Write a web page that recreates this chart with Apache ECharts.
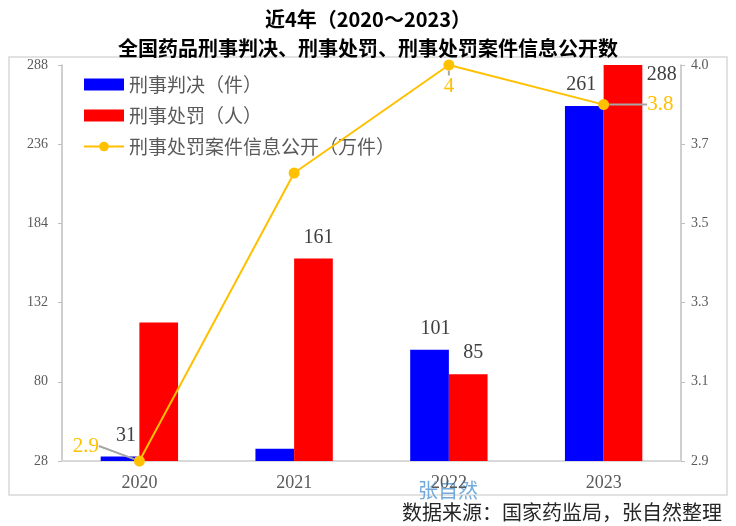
<!DOCTYPE html>
<html>
<head>
<meta charset="utf-8">
<script src="https://cdn.jsdelivr.net/npm/echarts@6/dist/echarts.min.js"></script>
<style>html,body{margin:0;padding:0;background:#fff;}#c{width:736px;height:526px;}</style>
</head>
<body>
<div id="c"></div>
<script>
const categories = ['2020', '2021', '2022', '2023'];
const judgments = [31, 36, 101, 261];      // 刑事判决（件）
const penalties = [119, 161, 85, 288];     // 刑事处罚（人）
const disclosures = [2.9, 3.70, 4.0, 3.89]; // 刑事处罚案件信息公开（万件）
const leftTicks = { min: 28, max: 288, interval: 52 };
const rightTicks = { min: 2.9, max: 4.0, interval: 0.22 };
const seriesNames = ['刑事判决（件）', '刑事处罚（人）', '刑事处罚案件信息公开（万件）'];

const numFont = 'Liberation Serif';
const cjkFont = 'Noto Sans CJK SC';

function trunc1(v) {
  return Math.floor(v * 10 + 1e-6) / 10;
}

// per-point label tweaks (which labels show and small nudges)
const blueLabel = [
  { show: true, offset: [6, 0] },
  { show: false },
  { show: true, offset: [6, 0] },
  { show: true, offset: [-3, 0] }
];
const redLabel = [
  { show: false },
  { show: true, offset: [5, 0] },
  { show: true, offset: [5, 0] },
  { show: true, position: [43, 0] }
];
const lineLabelShow = [true, false, true, true];

const chart = echarts.init(document.getElementById('c'));
chart.setOption({
  animation: false,
  backgroundColor: '#fff',
  title: {
    text: '近4年（2020～2023）\n全国药品刑事判决、刑事处罚、刑事处罚案件信息公开数',
    left: 'center',
    top: 0,
    textStyle: { fontFamily: cjkFont, fontSize: 20, fontWeight: 'bold', lineHeight: 29, color: '#000' }
  },
  legend: {
    orient: 'vertical',
    left: 78,
    top: 70,
    itemWidth: 40,
    itemHeight: 12,
    itemGap: 12,
    selectedMode: false,
    textStyle: { fontFamily: cjkFont, fontSize: 19, color: '#595959' },
    data: [
      { name: seriesNames[0], icon: 'rect' },
      { name: seriesNames[1], icon: 'rect' },
      { name: seriesNames[2] }
    ]
  },
  grid: { left: 62, right: 55, top: 65, bottom: 65 },
  xAxis: {
    type: 'category',
    data: categories,
    axisLine: { lineStyle: { color: '#d9d9d9', width: 2 } },
    axisTick: { show: false },
    axisLabel: { margin: 13, fontFamily: numFont, fontSize: 18, color: '#595959' }
  },
  yAxis: [
    {
      type: 'value',
      min: leftTicks.min, max: leftTicks.max, interval: leftTicks.interval,
      axisLine: { show: true, lineStyle: { color: '#bfbfbf', width: 1.5 } },
      axisTick: { show: true, length: 4, lineStyle: { color: '#bfbfbf' } },
      splitLine: { show: false },
      axisLabel: { margin: 14, fontFamily: numFont, fontSize: 14, color: '#595959' }
    },
    {
      type: 'value',
      min: rightTicks.min, max: rightTicks.max, interval: rightTicks.interval,
      axisLine: { show: true, lineStyle: { color: '#bfbfbf', width: 1.5 } },
      axisTick: { show: true, length: 4, lineStyle: { color: '#bfbfbf' } },
      splitLine: { show: false },
      axisLabel: {
        margin: 10, fontFamily: numFont, fontSize: 14, color: '#595959',
        formatter: v => trunc1(v).toFixed(1)
      }
    }
  ],
  series: [
    {
      name: seriesNames[0],
      type: 'bar',
      barGap: '0%',
      barCategoryGap: '50%',
      itemStyle: { color: '#0000ff' },
      label: { show: true, position: 'top', distance: 11, fontFamily: numFont, fontSize: 20, color: '#404040' },
      data: judgments.map((v, i) => ({ value: v, label: blueLabel[i] }))
    },
    {
      name: seriesNames[1],
      type: 'bar',
      itemStyle: { color: '#ff0000' },
      label: { show: true, position: 'top', distance: 11, fontFamily: numFont, fontSize: 20, color: '#404040' },
      data: penalties.map((v, i) => ({ value: v, label: redLabel[i] }))
    },
    {
      name: seriesNames[2],
      type: 'line',
      yAxisIndex: 1,
      z: 5,
      symbol: 'circle',
      symbolSize: 11,
      lineStyle: { color: '#ffc000', width: 2 },
      itemStyle: { color: '#ffc000' },
      label: {
        show: true,
        fontFamily: numFont, fontSize: 21, color: '#ffc000',
        formatter: p => {
          const t = trunc1(p.value);
          return Number.isInteger(t) ? String(t) : t.toFixed(1);
        }
      },
      labelLine: { show: true, lineStyle: { color: '#a6a6a6', width: 2 } },
      labelLayout: function (params) {
        if (params.dataIndex === 0) return { dx: -30, dy: -15 };
        if (params.dataIndex === 3) return { dx: 33, dy: 0 };
        return {};
      },
      data: disclosures.map((v, i) => ({
        value: v,
        label: {
          show: lineLabelShow[i],
          position: i === 0 ? 'left' : (i === 2 ? 'bottom' : 'right')
        }
      }))
    }
  ],
  graphic: [
    {
      type: 'rect',
      z: -10,
      shape: { x: 9, y: 57, width: 718, height: 438 },
      style: { fill: 'none', stroke: '#d9d9d9', lineWidth: 1.5 }
    },
    {
      type: 'text',
      x: 448, y: 490,
      style: { text: '张自然', fontFamily: cjkFont, fontSize: 20, fill: 'rgba(91,155,213,0.85)', align: 'center', verticalAlign: 'middle' }
    },
    {
      type: 'text',
      x: 722, y: 512,
      style: { text: '数据来源：国家药监局，张自然整理', fontFamily: cjkFont, fontSize: 20, fill: '#262626', align: 'right', verticalAlign: 'middle' }
    }
  ]
});
</script>
</body>
</html>
